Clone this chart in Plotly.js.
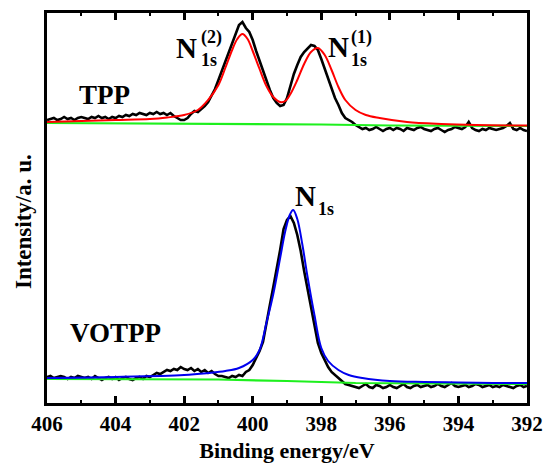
<!DOCTYPE html>
<html>
<head>
<meta charset="utf-8">
<script src="https://cdn.plot.ly/plotly-3.0.1.min.js"></script>
<style>html,body{margin:0;padding:0;background:#fff;}#chart{width:544px;height:463px;}</style>
</head>
<body>
<div id="chart"></div>
<script>
// Energy grid of the measured spectra: start and step (eV)
const rawStart = 406;
const rawStep = -0.1;

// TPP measured N1s spectrum (406.0 -> 392.0 eV, 0.1 eV steps)
const tppRaw = [
  283,284,285,283,284,286,284,285,283,285,286,
  285,284,286,285,287,285,286,284,286,285,
  287,286,288,287,289,288,290,289,288,290,
  289,291,289,290,288,290,287,285,283,283,
  285,289,292,291,294,297,301,308,314,323,
  332,342,351,361,370,378,381,375,371,363,
  352,342,331,322,313,305,300,297,298,305,
  317,329,338,346,351,355,358,357,353,344,
  334,323,314,305,298,290,285,283,281,278,
  276,274,275,273,274,276,274,272,274,275,
  273,275,274,272,275,274,273,275,276,274,
  273,272,274,275,273,271,273,274,276,275,
  274,276,281,275,273,272,274,273,275,274,
  273,274,275,277,280,274,273,275,273,272
];

// VOTPP measured N1s spectrum (406.0 -> 392.0 eV, 0.1 eV steps)
const votppRaw = [
  26,27,25,26,27,26,24,26,25,27,26,
  25,26,24,27,25,23,25,26,24,26,
  23,25,26,24,23,25,26,24,27,26,
  28,30,29,31,33,32,34,33,36,34,
  33,35,32,34,31,33,30,32,29,27,
  27,26,25,27,26,28,27,31,33,38,
  45,52,61,78,98,116,133,153,174,183,
  187,180,168,152,132,113,96,78,60,50,
  43,36,31,28,25,22,19,18,17,16,
  15,17,19,16,15,18,17,15,16,18,
  16,15,17,19,16,15,17,18,16,17,
  18,16,17,19,17,16,18,20,17,16,
  17,18,16,17,19,18,16,17,18,16,
  17,16,18,17,16,15,17,18,16,17
];

// TPP fitted envelope (red)
const tppFitX = [406,405,404,403,402.5,402,401.6,401.3,401.0,400.8,400.6,400.45,400.3,400.15,400.0,399.8,399.6,399.4,399.2,399.05,398.9,398.7,398.5,398.3,398.1,397.9,397.7,397.5,397.3,397.0,396.7,396.3,395.5,394.5,393.5,392];
const tppFitY = [281,282,283,284,285.5,288,293,303,318,335,353,364,369,364,352,334,317,306,301,302,309,323,339,351,355,348,333,316,303,293,288,285,281,279,278,277.5];

// TPP background (green)
const tppBgX = [406,401,398,396,392];
const tppBgY = [280,279.5,278.5,277.5,277];

// VOTPP fitted envelope (blue)
const votppFitX = [406,404,402,401.3,400.8,400.4,400.0,399.8,399.6,399.4,399.2,399.05,398.92,398.82,398.7,398.55,398.4,398.2,398.0,397.8,397.5,397.2,396.8,396.0,395,394,393,392];
const votppFitY = [25,26,28,30,32,35,43,53,80,109,145,172,188,193,184,158,126,88,55,42,33,28,25,22,21,20.5,20,20];

// VOTPP background (green)
const votppBgX = [406,401,399,397,392];
const votppBgY = [24,23.5,22,20,19];

// Axis
const xTickVals = [406,404,402,400,398,396,394,392];
const xTickText = ['406','404','402','400','398','396','394','392'];

const serif = 'Liberation Serif';

const traces = [
  {x0: rawStart, dx: rawStep, y: tppRaw, mode: 'lines', line: {color: '#000000', width: 2.6}, hoverinfo: 'skip'},
  {x0: rawStart, dx: rawStep, y: votppRaw, mode: 'lines', line: {color: '#000000', width: 2.6}, hoverinfo: 'skip'},
  {x: tppBgX, y: tppBgY, mode: 'lines', line: {color: '#1ef01e', width: 2.2}, hoverinfo: 'skip'},
  {x: votppBgX, y: votppBgY, mode: 'lines', line: {color: '#1ef01e', width: 2.2}, hoverinfo: 'skip'},
  {x: tppFitX, y: tppFitY, mode: 'lines', line: {color: '#ff0000', width: 2, shape: 'spline', smoothing: 1}, hoverinfo: 'skip'},
  {x: votppFitX, y: votppFitY, mode: 'lines', line: {color: '#0000ee', width: 2, shape: 'spline', smoothing: 1}, hoverinfo: 'skip'}
];

function ann(x, y, text, size, xanchor, yanchor) {
  return {x: x, y: y, xref: 'x', yref: 'y', text: '<b>' + text + '</b>', showarrow: false,
    xanchor: xanchor || 'center', yanchor: yanchor || 'middle', borderpad: 0,
    font: {family: serif, size: size, color: '#000'}};
}

const layout = {
  width: 544, height: 463,
  margin: {l: 47, r: 17, t: 13, b: 60},
  paper_bgcolor: '#ffffff', plot_bgcolor: '#ffffff',
  showlegend: false,
  font: {family: serif, color: '#000'},
  xaxis: {
    range: [406, 392], autorange: false,
    tickvals: xTickVals, ticktext: xTickText.map(function (t) { return '<b>' + t + '</b>'; }),
    ticks: 'inside', ticklen: 7, tickwidth: 3, tickcolor: '#000',
    minor: {dtick: 1, ticks: 'inside', ticklen: 3, tickwidth: 2, tickcolor: '#000', showgrid: false},
    showline: true, linecolor: '#000', linewidth: 3, mirror: 'ticks',
    showgrid: false, zeroline: false,
    tickfont: {family: serif, size: 21, color: '#000'},
    title: {text: '<b>Binding energy/eV</b>', font: {family: serif, size: 22, color: '#000'}, standoff: 9}
  },
  yaxis: {
    range: [0, 390], autorange: false,
    showticklabels: false, ticks: '',
    showline: true, linecolor: '#000', linewidth: 3, mirror: true,
    showgrid: false, zeroline: false
  },
  annotations: [
    {xref: 'paper', yref: 'paper', x: -0.05, y: 0.464, xanchor: 'center', yanchor: 'middle',
      text: '<b>Intensity/a. u.</b>', textangle: -90, showarrow: false,
      font: {family: serif, size: 23, color: '#000'}},
    ann(404.31, 308, 'TPP', 27),
    ann(403.99, 70, 'VOTPP', 27),
    ann(401.92, 355, 'N', 29),
    ann(401.54, 354, '(2)', 18, 'left', 'bottom'),
    ann(401.54, 354, '1s', 18, 'left', 'top'),
    ann(397.51, 356, 'N', 29),
    ann(397.16, 354, '(1)', 18, 'left', 'bottom'),
    ann(397.16, 354, '1s', 18, 'left', 'top'),
    ann(398.45, 207, 'N', 29),
    ann(398.13, 194, '1s', 18, 'left')
  ]
};

Plotly.newPlot('chart', traces, layout, {displayModeBar: false, staticPlot: true});
</script>
</body>
</html>
